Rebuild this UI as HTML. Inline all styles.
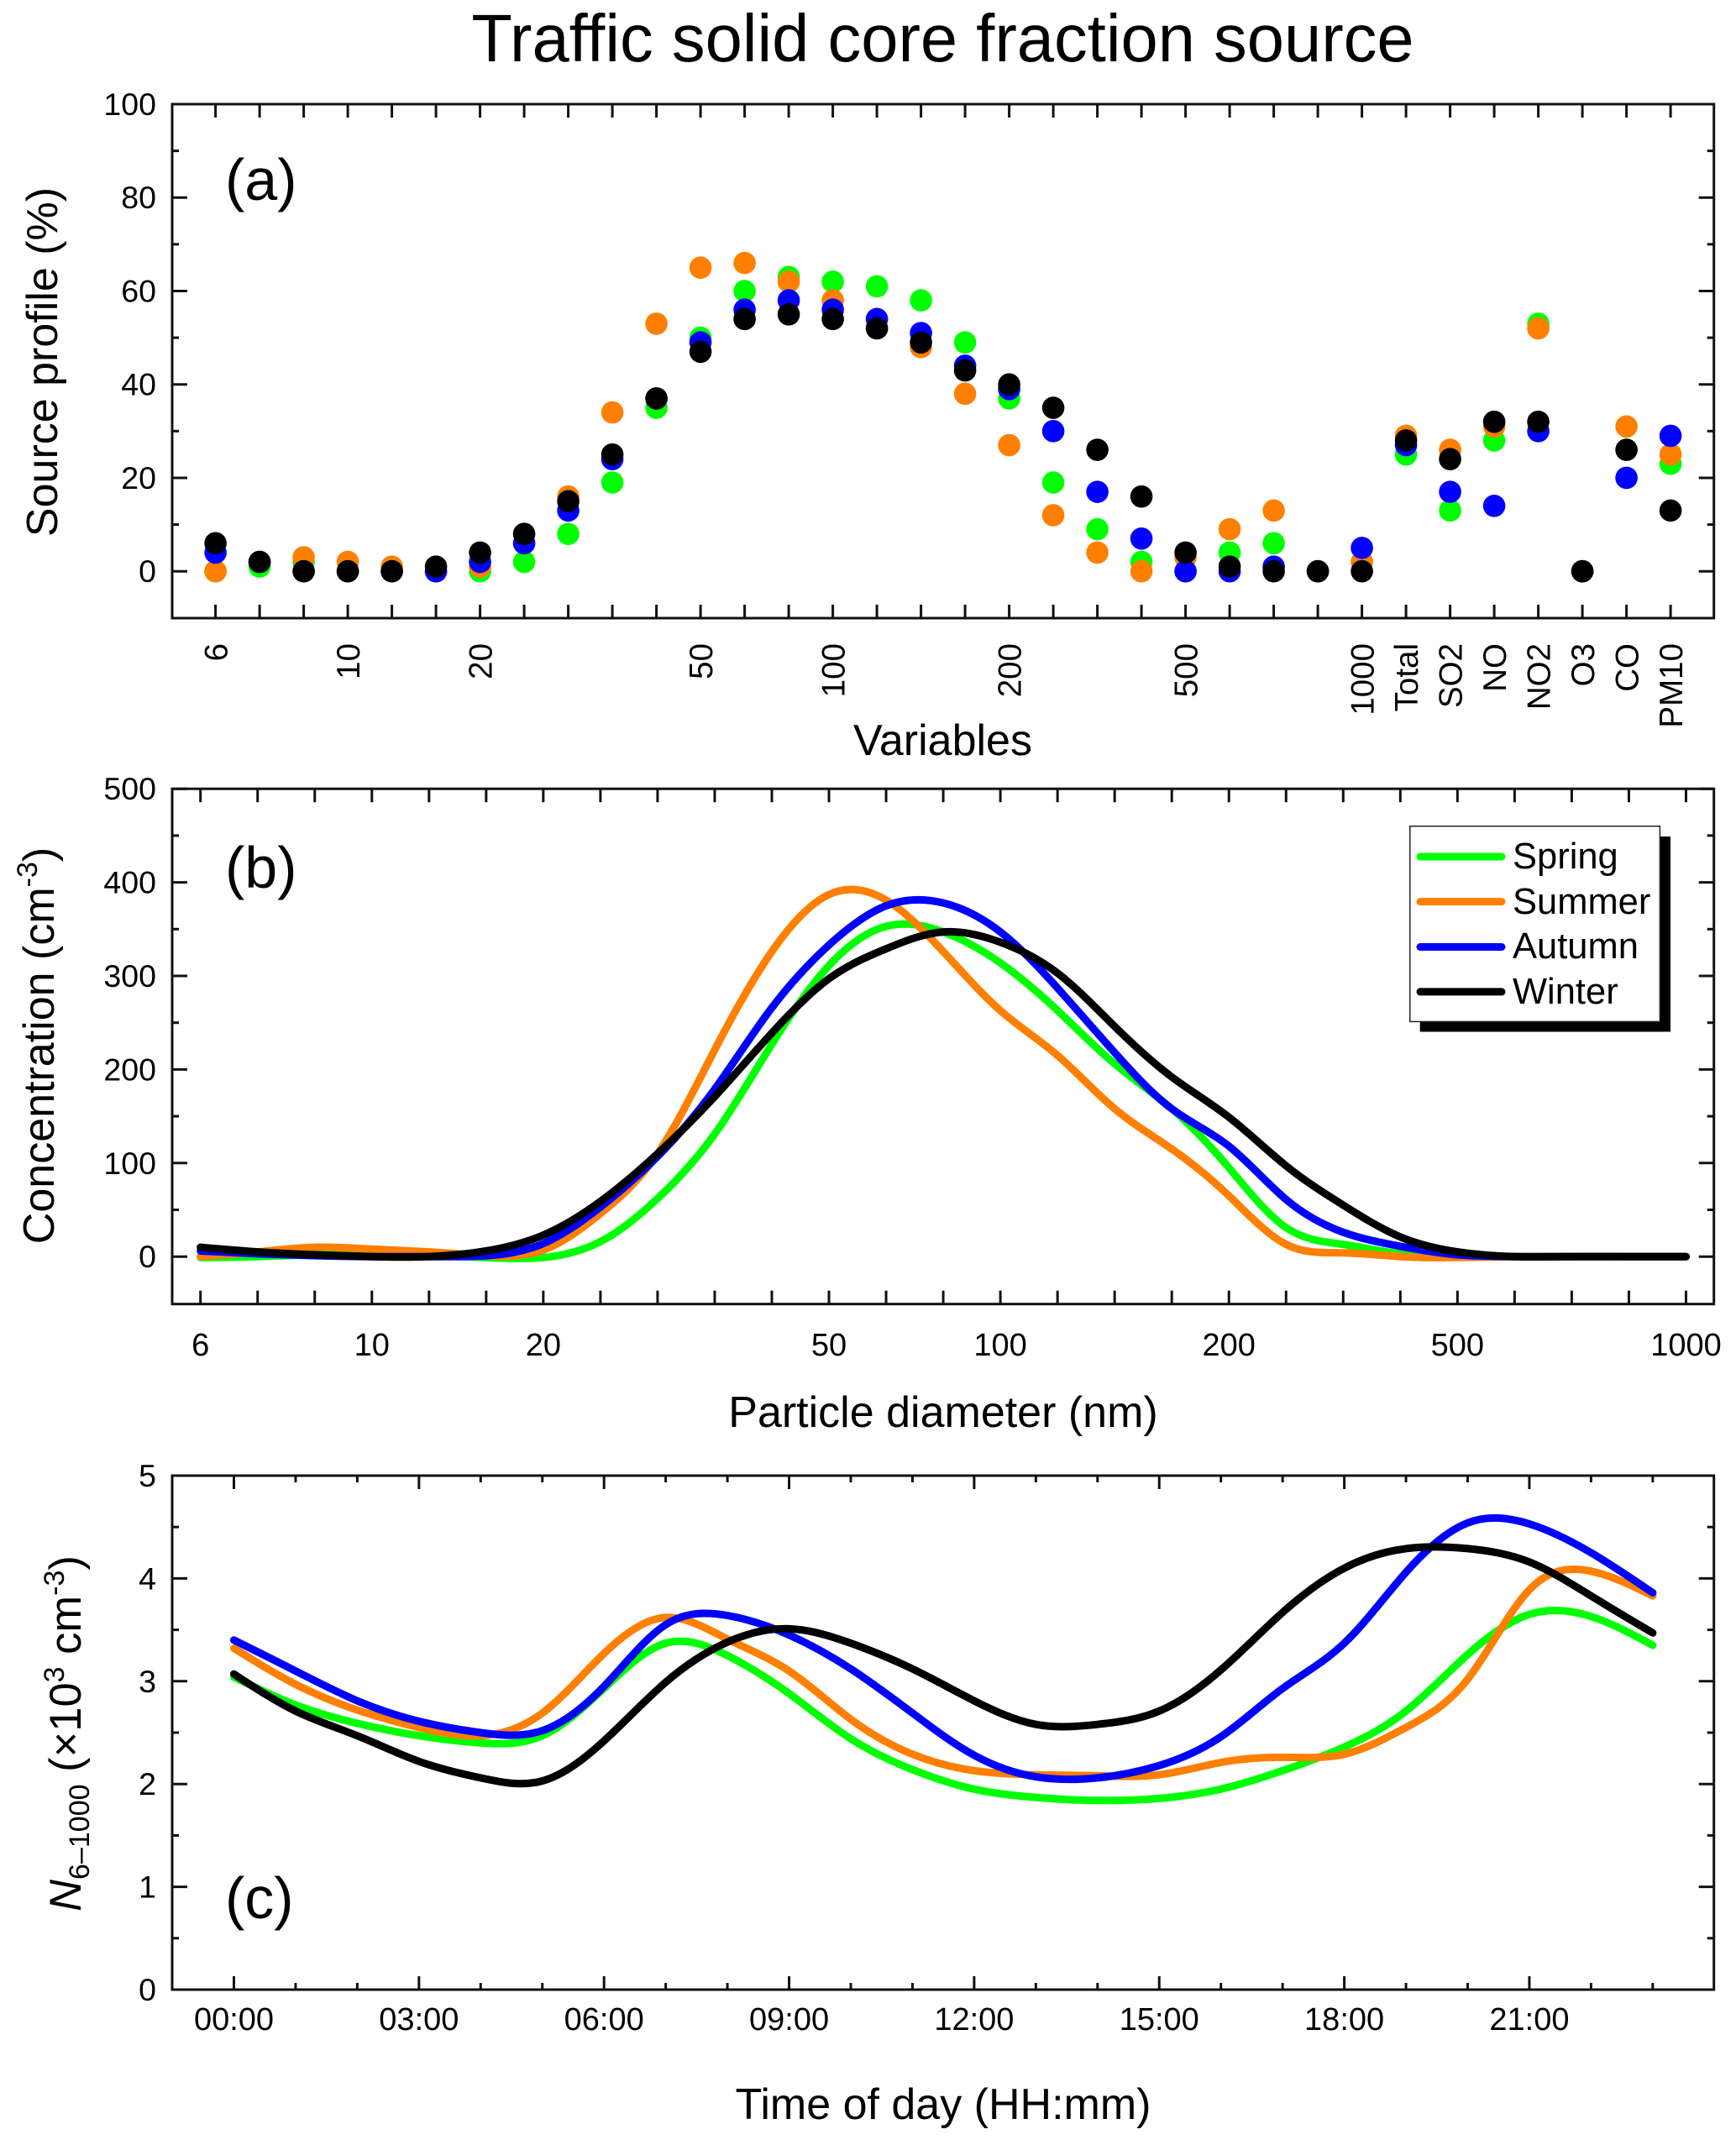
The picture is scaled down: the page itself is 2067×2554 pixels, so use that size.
<!DOCTYPE html>
<html><head><meta charset="utf-8"><title>Traffic solid core fraction source</title>
<style>
html,body{margin:0;padding:0;background:#fff;width:2067px;height:2554px;overflow:hidden}
svg{display:block}
text{font-family:"Liberation Sans",sans-serif;fill:#000}
</style></head>
<body>
<svg id="fig" xmlns="http://www.w3.org/2000/svg" width="2067" height="2554" viewBox="0 0 2067 2554">
<rect width="2067" height="2554" fill="#fff"/>
<text x="1122.5" y="73" font-size="79.5" text-anchor="middle">Traffic solid core fraction source</text>
<g id="panelA"></g>
<g id="panelB"></g>
<g id="panelC"></g>
<text x="268" y="238" font-size="70">(a)</text>
<text x="268" y="1057" font-size="70">(b)</text>
<text x="268" y="2284" font-size="70">(c)</text>
<text transform="translate(68,431) rotate(-90)" font-size="52" text-anchor="middle">Source profile (%)</text>
<text x="1122.5" y="899" font-size="52" text-anchor="middle">Variables</text>
<text transform="translate(64,1245) rotate(-90)" font-size="52" text-anchor="middle">Concentration (cm<tspan font-size="34" dy="-20">-3</tspan><tspan dy="20">)</tspan></text>
<text x="1123" y="1699" font-size="52" text-anchor="middle">Particle diameter (nm)</text>
<text transform="translate(96,2064) rotate(-90)" font-size="52.5" text-anchor="middle"><tspan font-style="italic">N</tspan><tspan font-size="34" dy="10">6–1000</tspan><tspan dy="-10"> (×10</tspan><tspan font-size="34" dy="-20">3</tspan><tspan dy="20"> cm</tspan><tspan font-size="34" dy="-20">-3</tspan><tspan dy="20">)</tspan></text>
<text x="1123" y="2523" font-size="52" text-anchor="middle">Time of day (HH:mm)</text>
<g id="legend">
<rect x="1690.7" y="996" width="298.3" height="232.5" fill="#000"/>
<rect x="1678.8" y="983.7" width="297.6" height="232.7" fill="#fff" stroke="#222" stroke-width="1.5"/>
<line x1="1691" x2="1788" y1="1020" y2="1020" stroke="#00ff00" stroke-width="9" stroke-linecap="round"/>
<text x="1801" y="1034" font-size="43.5">Spring</text>
<line x1="1691" x2="1788" y1="1073.6" y2="1073.6" stroke="#ff7f00" stroke-width="9" stroke-linecap="round"/>
<text x="1801" y="1088" font-size="43.5">Summer</text>
<line x1="1691" x2="1788" y1="1127.5" y2="1127.5" stroke="#0000ff" stroke-width="9" stroke-linecap="round"/>
<text x="1801" y="1141" font-size="43.5">Autumn</text>
<line x1="1691" x2="1788" y1="1180.9" y2="1180.9" stroke="#000" stroke-width="9" stroke-linecap="round"/>
<text x="1801" y="1195" font-size="43.5">Winter</text>
</g>
</svg>
<script>
// ---- shared ----
const seasonNames = ['spring', 'summer', 'autumn', 'winter'];
const seasonColors = ['#00ff00', '#ff7f00', '#0000ff', '#000000'];

// ---- panel (a): source profile ----
const aCategories = ['6','','','10','','','20','','','','','50','','','100','','','','200','','','','500','','','','1000','Total','SO2','NO','NO2','O3','CO','PM10'];
const aSpring = [0,1,2,0,0,0,0,2,8,19,35,50,60,63,62,61,58,49,37,19,9,2,0,4,6,0,2,25,13,28,53,0,26,23];
const aSummer = [0,2,3,2,1,0,1,6,16,34,53,65,66,62,58,52,48,38,27,12,4,0,3,9,13,0,2,29,26,31,52,0,31,25];
const aAutumn = [4,2,0,0,0,0,2,6,13,24,37,49,56,58,56,54,51,44,39,30,17,7,0,0,1,0,5,27,17,14,30,0,20,29];
const aWinter = [6,2,0,0,0,1,4,8,15,25,37,47,54,55,54,52,49,43,40,35,26,16,4,1,0,0,0,28,24,32,32,0,26,13];
const aYTicks = [0,20,40,60,80,100];
const aYMinor = [-10,10,30,50,70,90];

// ---- panel (b): size distribution, bins are equally spaced on the axis ----
const bBinLabels = ['6','','','10','','','20','','','','','50','','','100','','','','200','','','','500','','','','1000'];
const bSpring = [-1,0,2,2,1,-1,-1,16,62,131,227,311,353,347,314,263,206,158,95,31,13,3,0,0,0,0,0];
const bSummer = [0,5,10,8,5,1,7,46,110,221,326,387,381,326,263,215,158,115,65,13,4,0,-1,0,0,0,0];
const bAutumn = [6,3,1,0,0,1,14,53,107,179,266,333,375,378,347,287,218,158,118,61,26,11,2,0,0,0,0];
const bWinter = [10,5,2,0,0,6,23,59,110,171,239,297,329,347,336,303,246,192,149,97,55,21,5,0,0,0,0];
const bYTicks = [0,100,200,300,400,500];
const bYMinor = [-50,50,150,250,350,450];

// ---- panel (c): diurnal cycle ----
const cHours = [0,1,2,3,4,5,6,7,8,9,10,11,12,13,14,15,16,17,18,19,20,21,22,23];
const cSpring = [3.04,2.77,2.59,2.47,2.40,2.47,2.93,3.37,3.25,2.88,2.44,2.14,1.95,1.87,1.84,1.86,1.95,2.13,2.36,2.71,3.26,3.65,3.63,3.35];
const cSummer = [3.32,2.97,2.72,2.55,2.47,2.69,3.27,3.62,3.41,3.10,2.63,2.29,2.13,2.09,2.08,2.09,2.21,2.26,2.29,2.55,3.02,3.89,4.07,3.83];
const cAutumn = [3.40,3.10,2.81,2.61,2.50,2.52,2.95,3.55,3.64,3.45,3.12,2.69,2.28,2.07,2.06,2.18,2.46,2.93,3.37,4.06,4.54,4.53,4.25,3.86];
const cWinter = [3.07,2.71,2.47,2.22,2.06,2.03,2.42,2.99,3.38,3.51,3.37,3.12,2.81,2.58,2.58,2.71,3.11,3.67,4.10,4.29,4.29,4.16,3.83,3.47];
const cXTickLabels = ['00:00','03:00','06:00','09:00','12:00','15:00','18:00','21:00'];
const cYTicks = [0,1,2,3,4,5];
const cYMinor = [0.5,1.5,2.5,3.5,4.5];

const NS = 'http://www.w3.org/2000/svg';
const L = 205, R = 2040.7;
const MAJ_X = 16, MAJ_Y = 18, MIN_Y = 8, MIN_X = 8;

function makeEl(parent, tag, attrs) {
  const el = document.createElementNS(NS, tag);
  for (const k in attrs) el.setAttribute(k, attrs[k]);
  parent.appendChild(el);
  return el;
}
function tickLine(parent, x1, y1, x2, y2, name) {
  const el = makeEl(parent, 'line', {x1: x1, y1: y1, x2: x2, y2: y2, stroke: '#111', 'stroke-width': 3});
  
  
}
function frame(parent, T, B, name) {
  const el = makeEl(parent, 'rect', {x: L, y: T, width: R - L, height: B - T, fill: 'none', stroke: '#111', 'stroke-width': 3});
  
  
}
function yAxis(parent, T, B, yFn, majors, minors) {
  majors.forEach(function (v) {
    const y = yFn(v);
    tickLine(parent, L, y, L + MAJ_Y, y, 'y-tick');
    tickLine(parent, R, y, R - MAJ_Y, y, 'y-tick-right');
    const t = makeEl(parent, 'text', {x: 186, y: y + 13, 'font-size': 37.5, 'text-anchor': 'end'});
    t.textContent = String(v);
    
    
  });
  minors.forEach(function (v) {
    const y = yFn(v);
    if (y > B - 1) return;
    tickLine(parent, L, y, L + MIN_Y, y, 'y-minor-tick');
    tickLine(parent, R, y, R - MIN_Y, y, 'y-minor-tick-right');
  });
}
// Natural cubic spline through equally spaced points, written as cubic Beziers
function smoothPath(pts) {
  const n = pts.length;
  const h = pts[1][0] - pts[0][0];
  const a = new Array(n), d = new Array(n), m = new Array(n);
  a[0] = 0.5;
  d[0] = 1.5 * (pts[1][1] - pts[0][1]) / h;
  for (let i = 1; i < n; i++) {
    const diag = (i === n - 1 ? 2 : 4) - a[i - 1];
    const rhs = i === n - 1 ? 3 * (pts[i][1] - pts[i - 1][1]) / h : 3 * (pts[i + 1][1] - pts[i - 1][1]) / h;
    a[i] = 1 / diag;
    d[i] = (rhs - d[i - 1]) / diag;
  }
  m[n - 1] = d[n - 1];
  for (let i = n - 2; i >= 0; i--) m[i] = d[i] - a[i] * m[i + 1];
  let path = 'M' + pts[0][0].toFixed(1) + ' ' + pts[0][1].toFixed(1);
  for (let i = 0; i < n - 1; i++) {
    path += 'C' + (pts[i][0] + h / 3).toFixed(1) + ' ' + (pts[i][1] + m[i] * h / 3).toFixed(1) + ' ' +
      (pts[i + 1][0] - h / 3).toFixed(1) + ' ' + (pts[i + 1][1] - m[i + 1] * h / 3).toFixed(1) + ' ' +
      pts[i + 1][0].toFixed(1) + ' ' + pts[i + 1][1].toFixed(1);
  }
  return path;
}
function drawLine(parent, xs, ys, xFn, yFn, color, name) {
  const pts = ys.map(function (v, i) { return [xFn(xs[i]), yFn(v)]; });
  const el = makeEl(parent, 'path', {d: smoothPath(pts), fill: 'none', stroke: color, 'stroke-width': 9, 'stroke-linecap': 'round', 'stroke-linejoin': 'round'});
  
  
}

// ---- draw panel (a) ----
(function () {
  const g = document.getElementById('panelA');
  const T = 124, B = 736;
  const yFn = function (v) { return 680.2 - v * 5.562; };
  const xFn = function (i) { return 256.6 + i * 52.5; };
  frame(g, T, B, 'panel-a-frame');
  yAxis(g, T, B, yFn, aYTicks, aYMinor);
  aCategories.forEach(function (c, i) {
    const x = xFn(i);
    tickLine(g, x, T, x, T + MAJ_X, 'x-tick-top');
    tickLine(g, x, B, x, B - MAJ_X, 'x-tick');
    if (c) {
      const t = makeEl(g, 'text', {transform: 'translate(' + (x + 14) + ',766) rotate(-90)', 'font-size': 38.5, 'text-anchor': 'end'});
      t.textContent = c;
      
      
    }
  });
  [aSpring, aSummer, aAutumn, aWinter].forEach(function (series, s) {
    series.forEach(function (v, i) {
      const dot = makeEl(g, 'circle', {cx: xFn(i), cy: yFn(v), r: 13.3, fill: seasonColors[s]});
      
      
    });
  });
})();

// ---- draw panel (b) ----
(function () {
  const g = document.getElementById('panelB');
  const T = 939.2, B = 1552.7;
  const yFn = function (v) { return 1496.2 - v * 1.114; };
  const xFn = function (i) { return 238.7 + i * 68.03; };
  frame(g, T, B, 'panel-b-frame');
  yAxis(g, T, B, yFn, bYTicks, bYMinor);
  const idx = bBinLabels.map(function (_, i) { return i; });
  bBinLabels.forEach(function (c, i) {
    const x = xFn(i);
    tickLine(g, x, T, x, T + MAJ_X, 'x-tick-top');
    tickLine(g, x, B, x, B - MAJ_X, 'x-tick');
    if (c) {
      const t = makeEl(g, 'text', {x: x, y: 1614, 'font-size': 38, 'text-anchor': 'middle'});
      t.textContent = c;
      
      
    }
  });
  [bSpring, bSummer, bAutumn, bWinter].forEach(function (series, s) {
    drawLine(g, idx, series, xFn, yFn, seasonColors[s], 'line-' + seasonNames[s]);
  });
})();

// ---- draw panel (c) ----
(function () {
  const g = document.getElementById('panelC');
  const T = 1757, B = 2369;
  const yFn = function (v) { return 2369 - v * 122.4; };
  const xFn = function (h) { return 278.5 + h * 73.45; };
  frame(g, T, B, 'panel-c-frame');
  yAxis(g, T, B, yFn, cYTicks, cYMinor);
  cHours.forEach(function (h) {
    const x = xFn(h);
    const major = h % 3 === 0;
    const len = major ? MAJ_X : MIN_X;
    tickLine(g, x, T, x, T + len, 'x-tick-top');
    tickLine(g, x, B, x, B - len, 'x-tick');
  });
  cXTickLabels.forEach(function (lab) {
    const h = parseInt(lab, 10);
    const t = makeEl(g, 'text', {x: xFn(h), y: 2417, 'font-size': 38, 'text-anchor': 'middle'});
    t.textContent = lab;
    
    
  });
  [cSpring, cSummer, cAutumn, cWinter].forEach(function (series, s) {
    drawLine(g, cHours, series, xFn, yFn, seasonColors[s], 'line-' + seasonNames[s]);
  });
})();
</script>
</body></html>
